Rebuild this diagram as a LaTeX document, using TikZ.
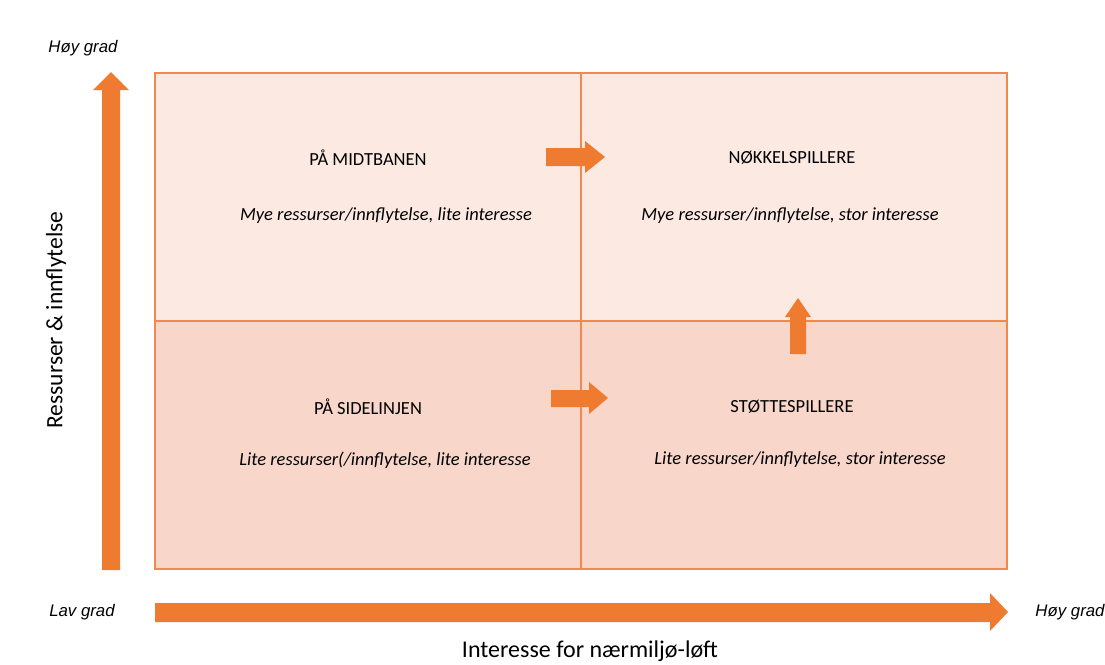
\documentclass[tikz,border=0pt]{standalone}
\usepackage{fontspec}
\setmainfont{Carlito}
\newfontfamily\gradefont{Liberation Sans}
\begin{document}
\begin{tikzpicture}[x=1pt,y=-1pt,
  quadlight/.style={fill=qlight,draw=qline,line width=1.2pt},
  quaddark/.style={fill=qdark,draw=qline,line width=1.2pt},
  bigarrow/.style={fill=arr,draw=none},
  title/.style={font=\fontsize{18.5}{22}\selectfont,inner sep=0pt},
  desc/.style={font=\fontsize{18.5}{22}\selectfont\itshape,inner sep=0pt},
  grade/.style={font=\gradefont\fontsize{16.8}{20}\selectfont\itshape,inner sep=0pt},
  axis/.style={font=\fontsize{24}{28}\selectfont,inner sep=0pt}]
\definecolor{qlight}{HTML}{FCE9E2}
\definecolor{qdark}{HTML}{F8D6CA}
\definecolor{qline}{HTML}{F2884E}
\definecolor{arr}{HTML}{EE7B2F}
\useasboundingbox[fill=white] (0,0) rectangle (1105,664);
% quadrants
\path[quadlight] (155,73) rectangle (581,321);
\path[quadlight] (581,73) rectangle (1007,321);
\path[quaddark] (155,321) rectangle (581,569);
\path[quaddark] (581,321) rectangle (1007,569);
% vertical axis arrow
\path[bigarrow] (102,570) -- (102,90) -- (93,90) -- (111,72) -- (129,90) -- (120,90) -- (120,570) -- cycle;
% horizontal axis arrow
\path[bigarrow] (155,603) -- (990,603) -- (990,593) -- (1008,612) -- (990,631) -- (990,622) -- (155,622) -- cycle;
% small arrows
\path[bigarrow] (546,148) -- (585,148) -- (585,141) -- (605,157) -- (585,173) -- (585,166) -- (546,166) -- cycle;
\path[bigarrow] (551,390) -- (589,390) -- (589,382) -- (608,398) -- (589,414) -- (589,407) -- (551,407) -- cycle;
\path[bigarrow] (790,354) -- (790,317) -- (785,317) -- (798,298) -- (811,317) -- (806,317) -- (806,354) -- cycle;
% texts
\node[title] (t1) at (368,158) {PÅ MIDTBANEN};
\node[desc] (d1) at (386,216) {Mye ressurser/innflytelse, lite interesse};
\node[title] (t2) at (792,158) {NØKKELSPILLERE};
\node[desc] (d2) at (790,216) {Mye ressurser/innflytelse, stor interesse};
\node[title] (t3) at (368,407) {PÅ SIDELINJEN};
\node[desc] (d3) at (385,460) {Lite ressurser(/innflytelse, lite interesse};
\node[title] (t4) at (792,407) {STØTTESPILLERE};
\node[desc] (d4) at (800,460) {Lite ressurser/innflytelse, stor interesse};
\node[grade] (hy) at (83,48) {Høy grad};
\node[grade] (lg) at (82,612) {Lav grad};
\node[grade] (hx) at (1070,612) {Høy grad};
\node[axis] (ax) at (590,651) {Interesse for nærmiljø-løft};
\node[axis,rotate=90,font=\fontsize{23.5}{28}\selectfont] (ay) at (56,320) {Ressurser \& innflytelse};
\end{tikzpicture}
\end{document}
